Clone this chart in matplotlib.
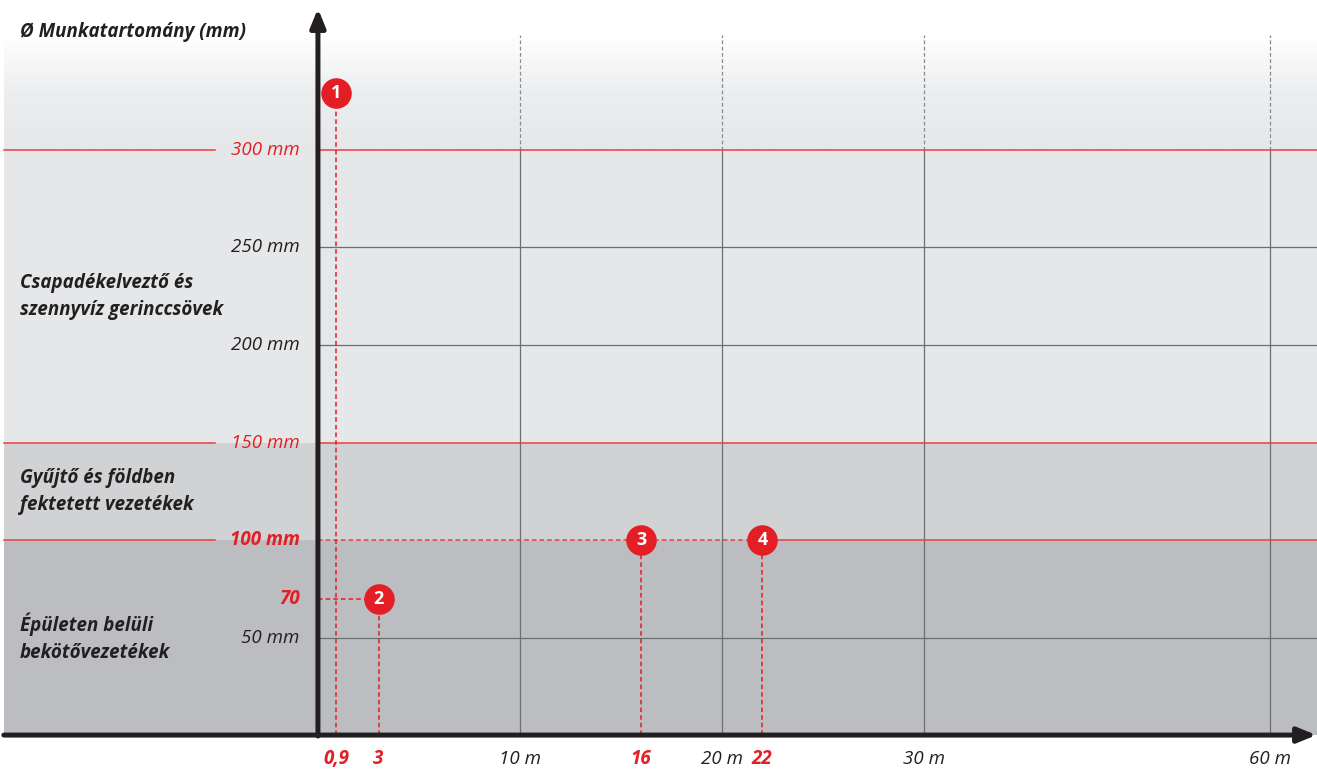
import numpy as np
import matplotlib.pyplot as plt
from matplotlib.colors import LinearSegmentedColormap

# --- adatok ---
title = "Ø Munkatartomány (mm)"
bands = [0, 100, 150, 300]            # sávhatárok (mm)
band_colors = ["#BCBDC1", "#D1D2D4", "#E6E7E9"]
band_labels = ["Épületen belüli\nbekötővezetékek",
               "Gyűjtő és földben\nfektetett vezetékek",
               "Csapadékelveztő és\nszennyvíz gerinccsövek"]
band_label_y = [50, 125, 225]
red_ticks = [100, 150, 300]
red_tick_bold = [True, False, False]
grid_ticks = [50, 200, 250]
x_ticks = [10, 20, 30, 60]
x_tick_labels = ["10 m", "20 m", "30 m", "60 m"]
pt_labels = ["1", "2", "3", "4"]
pt_x = [0.9, 3, 16, 22]
pt_y = [329, 70, 100, 100]
pt_x_labels = ["0,9", "3", "16", "22"]

RED = "#E31E24"
LRED = "#EE3B42"
DARK = "#231F20"
GRID = "#6D6E71"
FONT = ["Open Sans", "DejaVu Sans"]
FS = 13.5

# töréses x tengely: 30 m felett sűrített lépték
k = 0.571
def fwd(x):
    x = np.asarray(x, dtype=float)
    return np.where(x <= 30, x, 30 + (x - 30) * k)
def inv(x):
    x = np.asarray(x, dtype=float)
    return np.where(x <= 30, x, 30 + (x - 30) / k)

fig = plt.figure(figsize=(13.17, 7.69), dpi=100)
ax = fig.add_axes([0, 0, 1, 1])
ax.set_xscale("function", functions=(fwd, inv))
xmin, xmax = -15.74, float(inv(49.46))
ax.axis("off")

x_left = -15.55
top = 359
x_lab_y = -12.3

# háttér sávok
for lo, hi, c in zip(bands[:-1], bands[1:], band_colors):
    ax.fill_between([x_left, xmax], lo, hi, color=c, lw=0, zorder=0)
grad = LinearSegmentedColormap.from_list("g", ["#E6E7E9", "#EDEEEF", "#FFFFFF"])
ax.imshow(np.linspace(0, 1, 100).reshape(-1, 1), cmap=grad, origin="lower",
          extent=[x_left, xmax, 300, top], aspect="auto", zorder=0)
ax.set_xlim(xmin, xmax)
ax.set_ylim(-17.4, 376.9)

# rács
for y in grid_ticks:
    ax.plot([0, xmax], [y, y], color=GRID, lw=0.9, zorder=1)
    ax.text(-0.9, y, f"{y} mm", ha="right", va="center", fontsize=FS,
            style="italic", color=DARK, family=FONT)
for x, lab in zip(x_ticks, x_tick_labels):
    ax.plot([x, x], [0, 300], color=GRID, lw=0.9, zorder=1)
    ax.plot([x, x], [300, top], color="#8A8B8E", lw=0.9, ls=(0, (3, 2)), zorder=1)
    ax.text(x, x_lab_y, lab, ha="center", va="center", fontsize=FS,
            style="italic", color=DARK, family=FONT)

# piros határvonalak
for y, b in zip(red_ticks, red_tick_bold):
    ax.plot([x_left, -5.1], [y, y], color=LRED, lw=1.1, zorder=2)
    ax.text(-0.9, y, f"{y} mm", ha="right", va="center", fontsize=FS,
            style="italic", color=RED, weight="bold" if b else "normal", family=FONT)
    if y == 100:
        ax.plot([0, pt_x[3]], [y, y], color=LRED, lw=1.1, ls=(0, (3, 2)), zorder=2)
        ax.plot([pt_x[3], xmax], [y, y], color=LRED, lw=1.1, zorder=2)
    else:
        ax.plot([0, xmax], [y, y], color=LRED, lw=1.1, zorder=2)

# 70 mm jelölés
ax.plot([0, pt_x[1]], [pt_y[1], pt_y[1]], color=RED, lw=1.1, ls=(0, (3, 2)), zorder=2)
ax.text(-0.9, pt_y[1], str(pt_y[1]), ha="right", va="center", fontsize=FS,
        style="italic", color=RED, weight="bold", family=FONT)

# pontok
for lab, x, y, xl in zip(pt_labels, pt_x, pt_y, pt_x_labels):
    ax.plot([x, x], [0, y], color=RED, lw=1.1, ls=(0, (3, 2)), zorder=2)
    ax.plot(x, y, "o", ms=22, color=RED, mec="none", zorder=5)
    ax.text(x, y, lab, ha="center", va="center", fontsize=13, weight="bold",
            color="white", family=FONT, zorder=6)
    ax.text(x, x_lab_y, xl, ha="center", va="center", fontsize=FS, weight="bold",
            style="italic", color=RED, family=FONT)

# sáv feliratok
for lab, y in zip(band_labels, band_label_y):
    ax.text(-14.75, y, lab, ha="left", va="center", fontsize=FS, weight="bold",
            style="italic", color=DARK, family=FONT, linespacing=1.45)
ax.text(-14.75, 360.5, title, ha="left", va="center", fontsize=FS, weight="bold",
        style="italic", color=DARK, family=FONT)

# tengelyek
ax.annotate("", xy=(0, 372.5), xytext=(0, -0.5),
            arrowprops=dict(arrowstyle="-|>,head_length=1.1,head_width=0.45",
                            lw=3.6, color=DARK, shrinkA=0, shrinkB=0), zorder=7)
ax.annotate("", xy=(xmax - 0.05, 0), xytext=(x_left, 0),
            arrowprops=dict(arrowstyle="-|>,head_length=1.1,head_width=0.45",
                            lw=3.6, color=DARK, shrinkA=0, shrinkB=0), zorder=7)

fig.savefig("out.png", dpi=100)
